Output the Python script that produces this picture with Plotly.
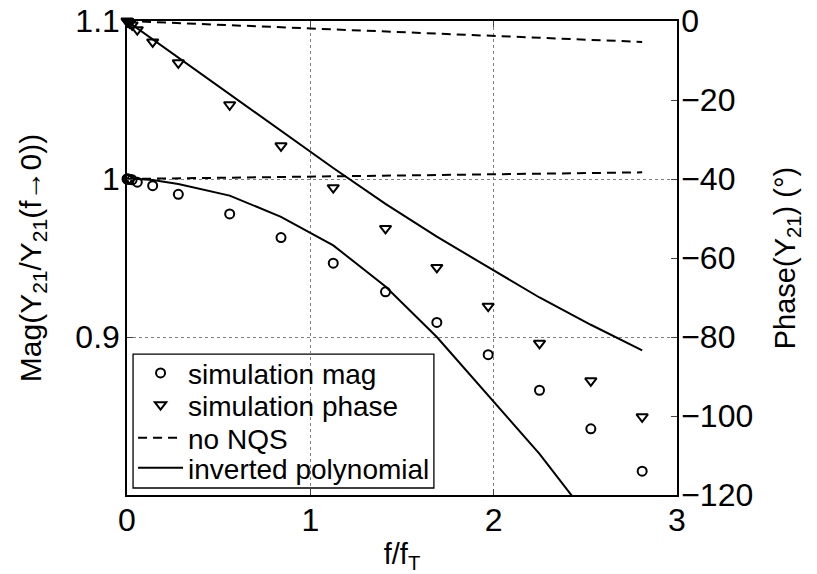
import plotly.graph_objects as go

# ---------------- data ----------------
sim_x = [0.0, 0.0028, 0.0056, 0.014, 0.028, 0.056, 0.14, 0.28, 0.56, 0.84,
         1.125, 1.41, 1.69, 1.97, 2.25, 2.53, 2.81]
sim_mag = [1.0, 1.0, 1.0, 0.9999, 0.9995, 0.998, 0.9958, 0.9903, 0.9779, 0.9629,
           0.9467, 0.9286, 0.9092, 0.8888, 0.8663, 0.8419, 0.8151]
sim_phase = [0.0, -0.1, -0.2, -0.5, -1.0, -2.2, -5.3, -10.6, -21.2, -31.6,
             -42.2, -52.5, -62.4, -72.2, -81.6, -91.1, -100.2]

nqs_x = [0.0, 2.81]
nqs_mag = [1.0, 1.0042]
nqs_phase = [0.0, -5.3]

poly_x = [0.0, 0.056, 0.14, 0.28, 0.56, 0.84, 1.125, 1.41, 1.69, 1.97, 2.25, 2.53, 2.81]
poly_mag = [1.0, 1.0, 0.9993, 0.9968, 0.9895, 0.976, 0.958, 0.932, 0.900, 0.863,
            0.826, 0.784, 0.74]
poly_phase = [0.0, -1.85, -4.6, -9.3, -18.5, -27.8, -37.2, -46.3, -54.6, -62.3,
              -70.0, -76.9, -83.4]

x_ticks = [0, 1, 2, 3]
mag_ticks = [0.9, 1.0, 1.1]
mag_labels = ["0.9", "1", "1.1"]
phase_ticks = [0, -20, -40, -60, -80, -100, -120]

legend_names = ["simulation mag", "simulation phase", "no NQS", "inverted polynomial"]

# ---------------- figure ----------------
FONT = "Liberation Sans, Arial, Helvetica, sans-serif"
DASH = "9px,6px"
TICKFONT = dict(size=32, family=FONT, color="black")

fig = go.Figure()

fig.add_trace(go.Scatter(
    x=sim_x, y=sim_mag, mode="markers", name=legend_names[0], legend="legend",
    marker=dict(symbol="circle-open", size=9, color="black", line=dict(width=2)),
    cliponaxis=False))
fig.add_trace(go.Scatter(
    x=sim_x, y=sim_phase, mode="markers", name=legend_names[1], yaxis="y2",
    legend="legend2",
    marker=dict(symbol="triangle-down-open", size=10, color="black", line=dict(width=2)),
    cliponaxis=False))
fig.add_trace(go.Scatter(
    x=nqs_x, y=nqs_mag, mode="lines", name=legend_names[2], legend="legend3",
    line=dict(color="black", width=2, dash=DASH)))
fig.add_trace(go.Scatter(
    x=nqs_x, y=nqs_phase, mode="lines", name=legend_names[2], legend="legend3",
    showlegend=False, yaxis="y2",
    line=dict(color="black", width=2, dash=DASH)))
fig.add_trace(go.Scatter(
    x=poly_x, y=poly_mag, mode="lines", name=legend_names[3], legend="legend4",
    line=dict(color="black", width=2)))
fig.add_trace(go.Scatter(
    x=poly_x, y=poly_phase, mode="lines", name=legend_names[3], legend="legend4",
    showlegend=False, yaxis="y2",
    line=dict(color="black", width=2)))

grid = dict(showgrid=True, gridcolor="#7f7f7f", gridwidth=1, griddash="dot")


def leg(yc):
    return dict(
        x=0.011, y=yc, xanchor="left", yanchor="middle",
        bgcolor="rgba(0,0,0,0)", borderwidth=0,
        font=dict(size=28, family=FONT, color="black"), itemwidth=45,
    )


fig.update_layout(
    width=817, height=574,
    margin=dict(l=127, r=140, t=21, b=79, autoexpand=False),
    paper_bgcolor="white", plot_bgcolor="white",
    font=dict(family=FONT, size=30, color="black"),
    showlegend=True,
    legend=leg(0.257),
    legend2=leg(0.190),
    legend3=leg(0.120),
    legend4=leg(0.057),
    xaxis=dict(
        range=[0, 3], tickvals=x_ticks, ticks="inside", ticklen=6, tickwidth=1,
        showline=True, linecolor="black", linewidth=1.5, mirror="ticks",
        zeroline=False, ticklabelstandoff=-4, tickfont=TICKFONT, automargin=False,
        title=dict(text="f/f<sub>T</sub>", font=dict(size=29), standoff=15),
        **grid,
    ),
    yaxis=dict(
        range=[0.8, 1.1], tickvals=mag_ticks, ticktext=mag_labels,
        ticks="inside", ticklen=6, tickwidth=1,
        showline=True, linecolor="black", linewidth=1.5, automargin=False,
        zeroline=False, ticklabelstandoff=-1, tickfont=TICKFONT,
        title=dict(text="Mag(Y<sub>21</sub>/Y<sub>21</sub>(f\u21920))",
                   font=dict(size=30), standoff=25),
        **grid,
    ),
    yaxis2=dict(
        range=[-120, 0], tickvals=phase_ticks, overlaying="y", side="right",
        ticks="inside", ticklen=6, tickwidth=1, automargin=False,
        showline=True, linecolor="black", linewidth=1.5,
        zeroline=False, showgrid=False, ticklabelstandoff=-4, tickfont=TICKFONT,
        title=dict(text="Phase(Y<sub>21</sub>) (\u00b0)", font=dict(size=29), standoff=22),
    ),
    shapes=[dict(
        type="rect", xref="paper", yref="paper",
        x0=0.011, x1=0.558, y0=0.0148, y1=0.2973,
        line=dict(color="black", width=1.3), fillcolor="white", layer="between",
    )],
)

fig.write_html("out.html")
